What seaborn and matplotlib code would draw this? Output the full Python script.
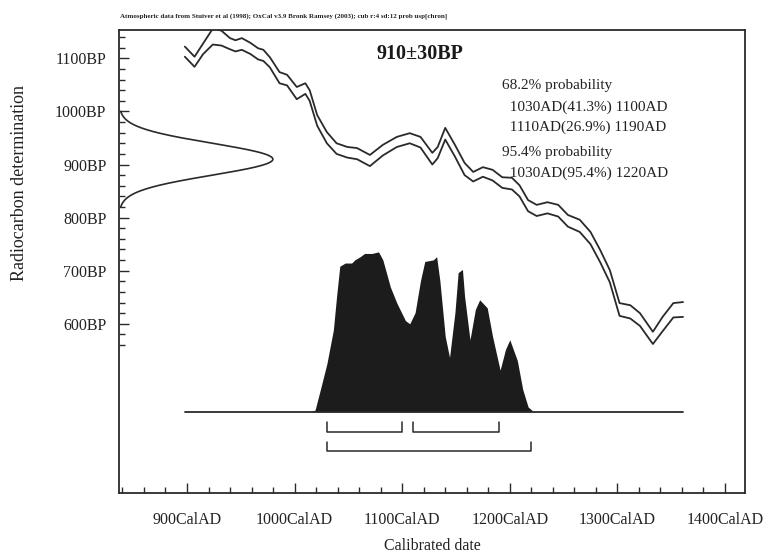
import numpy as np
import pandas as pd
import matplotlib
matplotlib.use("Agg")
import matplotlib.pyplot as plt
import seaborn as sns
from matplotlib.ticker import FixedLocator, FuncFormatter

# ---------------- data ----------------
cal_years = [898, 907, 915, 924, 932, 940, 945, 951, 959, 966, 971, 977, 986, 993,
             1002, 1010, 1014, 1021, 1030, 1039, 1049, 1058, 1070, 1082, 1095, 1107,
             1117, 1128, 1133, 1140, 1149, 1158, 1166, 1175, 1184, 1193, 1202, 1209,
             1217, 1225, 1235, 1245, 1254, 1265, 1275, 1284, 1293, 1302, 1312, 1321,
             1333, 1342, 1352, 1361]
cal_upper = [1122, 1103, 1128, 1156, 1152, 1138, 1134, 1138, 1129, 1119, 1116, 1102,
             1074, 1069, 1046, 1053, 1040, 993, 961, 940, 933, 931, 918, 937, 952, 959,
             952, 922, 933, 969, 937, 903, 886, 895, 890, 876, 875, 861, 833, 824, 829,
             824, 805, 796, 773, 739, 701, 639, 635, 620, 585, 613, 639, 641]
cal_lower = [1103, 1084, 1108, 1126, 1124, 1117, 1113, 1116, 1108, 1098, 1095, 1083,
             1053, 1049, 1023, 1033, 1020, 973, 940, 920, 913, 910, 897, 917, 933, 940,
             932, 900, 912, 947, 915, 880, 868, 877, 870, 856, 853, 840, 812, 803, 808,
             802, 783, 773, 750, 716, 678, 615, 610, 596, 562, 586, 612, 613]

prob_years = [1015, 1019, 1024, 1030, 1036, 1039, 1042, 1047, 1053, 1056, 1061, 1065,
              1072, 1078, 1082, 1089, 1095, 1103, 1107, 1112, 1117, 1121, 1129, 1132,
              1135, 1140, 1144, 1149, 1152, 1156, 1158, 1163, 1168, 1172, 1179, 1184,
              1191, 1196, 1200, 1207, 1212, 1217, 1222]
prob_density = [0.0, 0.01, 0.14, 0.30, 0.51, 0.72, 0.91, 0.93, 0.93, 0.95, 0.97, 0.99,
                0.99, 1.00, 0.95, 0.78, 0.68, 0.57, 0.55, 0.62, 0.82, 0.94, 0.95, 0.97,
                0.82, 0.47, 0.34, 0.62, 0.87, 0.89, 0.72, 0.45, 0.64, 0.70, 0.65, 0.47,
                0.26, 0.39, 0.45, 0.32, 0.14, 0.03, 0.0]

c14_mean = 910
c14_err = 30

range68 = [(1030, 1100), (1110, 1190)]
range95 = [(1030, 1220)]

x_major = [900, 1000, 1100, 1200, 1300, 1400]
y_major = [600, 700, 800, 900, 1000, 1100]

header = ("Atmospheric data from Stuiver et al (1998); OxCal v3.9 Bronk Ramsey (2003); "
          "cub r:4 sd:12 prob usp[chron]")
sample_label = "910\u00b130BP"
summary_lines = ["68.2% probability",
                 "  1030AD(41.3%) 1100AD",
                 "  1110AD(26.9%) 1190AD",
                 "95.4% probability",
                 "  1030AD(95.4%) 1220AD"]

# ---------------- styling ----------------
sns.set_theme(style="white")
plt.rcParams['font.family'] = ['Liberation Serif', 'DejaVu Serif']
ink = '#2a2a2a'

W, H = 767, 557
fig = plt.figure(figsize=(W / 100, H / 100), dpi=100)
fig.patch.set_facecolor('white')
L, R, T, B = 119, 745, 30, 493
ax = fig.add_axes([L / W, 1 - B / H, (R - L) / W, (B - T) / H])
ax.set_facecolor('white')

XMIN, XMAX = 836.8, 1418.6
YMIN, YMAX = 281.4, 1153.3
ax.set_xlim(XMIN, XMAX)
ax.set_ylim(YMIN, YMAX)

# calibration curve (two bounds)
cal_df = pd.DataFrame({
    'year': cal_years * 2,
    'bp': cal_upper + cal_lower,
    'bound': ['upper'] * len(cal_years) + ['lower'] * len(cal_years),
})
sns.lineplot(data=cal_df, x='year', y='bp', hue='bound', units='bound',
             estimator=None, palette={'upper': ink, 'lower': ink},
             linewidth=1.3, legend=False, ax=ax, sort=True)
for ln in ax.lines:
    ln.set_solid_joinstyle('round')
    ln.set_clip_on(True)

# radiocarbon measurement gaussian on the y axis
gauss_width = 143.0
bp = np.linspace(c14_mean - 3 * c14_err, c14_mean + 3 * c14_err, 300)
gx = XMIN + gauss_width * np.exp(-0.5 * ((bp - c14_mean) / c14_err) ** 2)
ax.plot(gx, bp, color=ink, lw=1.2)

# calibrated probability distribution
base = 434.5
height = 301.0
py = [base + height * p for p in prob_density]
ax.fill_between(prob_years, base, py, color='#1c1c1c', lw=0)
ax.plot([cal_years[0], cal_years[-1]], [base, base], color=ink, lw=1.3)

# range brackets
def bracket(x0, x1, y, top):
    ax.plot([x0, x0, x1, x1], [top, y, y, top], color=ink, lw=1.1)

for a, b in range68:
    bracket(a, b, 397, 416)
for a, b in range95:
    bracket(a, b, 360, 378)

# ticks
ax.xaxis.set_major_locator(FixedLocator(x_major))
ax.xaxis.set_minor_locator(FixedLocator(list(range(840, 1401, 20))))
ax.yaxis.set_major_locator(FixedLocator(y_major))
ax.yaxis.set_minor_locator(FixedLocator(list(range(560, 1141, 20))))
ax.xaxis.set_major_formatter(FuncFormatter(lambda v, p: f"{int(v)}CalAD"))
ax.yaxis.set_major_formatter(FuncFormatter(lambda v, p: f"{int(v)}BP"))
ax.tick_params(which='major', direction='in', length=7, width=1.0, color=ink,
               labelsize=11.5, labelcolor='#222222', bottom=True, left=True,
               top=False, right=False)
ax.tick_params(which='minor', direction='in', length=4, width=1.0, color=ink,
               bottom=True, left=True, top=False, right=False)
ax.tick_params(axis='x', which='major', pad=14)
ax.tick_params(axis='y', which='major', pad=9)
for s in ax.spines.values():
    s.set_visible(True)
    s.set_color(ink)
    s.set_linewidth(1.3)
ax.set_xlabel('')
ax.set_ylabel('')

# texts
fig.text(432 / W, 1 - 546 / H, "Calibrated date", ha='center', va='center',
         fontsize=11.5, color='#222222')
fig.text(20 / W, 1 - 183 / H, "Radiocarbon determination", ha='center', va='center',
         rotation=90, fontsize=13, color='#222222')
fig.text(120 / W, 1 - 16 / H, header, ha='left', va='center', fontsize=5,
         fontweight='bold', color='#222222')
fig.text(420 / W, 1 - 54 / H, sample_label, ha='center', va='center',
         fontsize=14.5, fontweight='bold', color='#1a1a1a')
line_y = [85, 107, 127, 152, 173]
for txt, yy in zip(summary_lines, line_y):
    fig.text(502 / W, 1 - yy / H, txt, ha='left', va='center', fontsize=11,
             color='#222222')

fig.savefig('out.png', dpi=100, facecolor='white')
